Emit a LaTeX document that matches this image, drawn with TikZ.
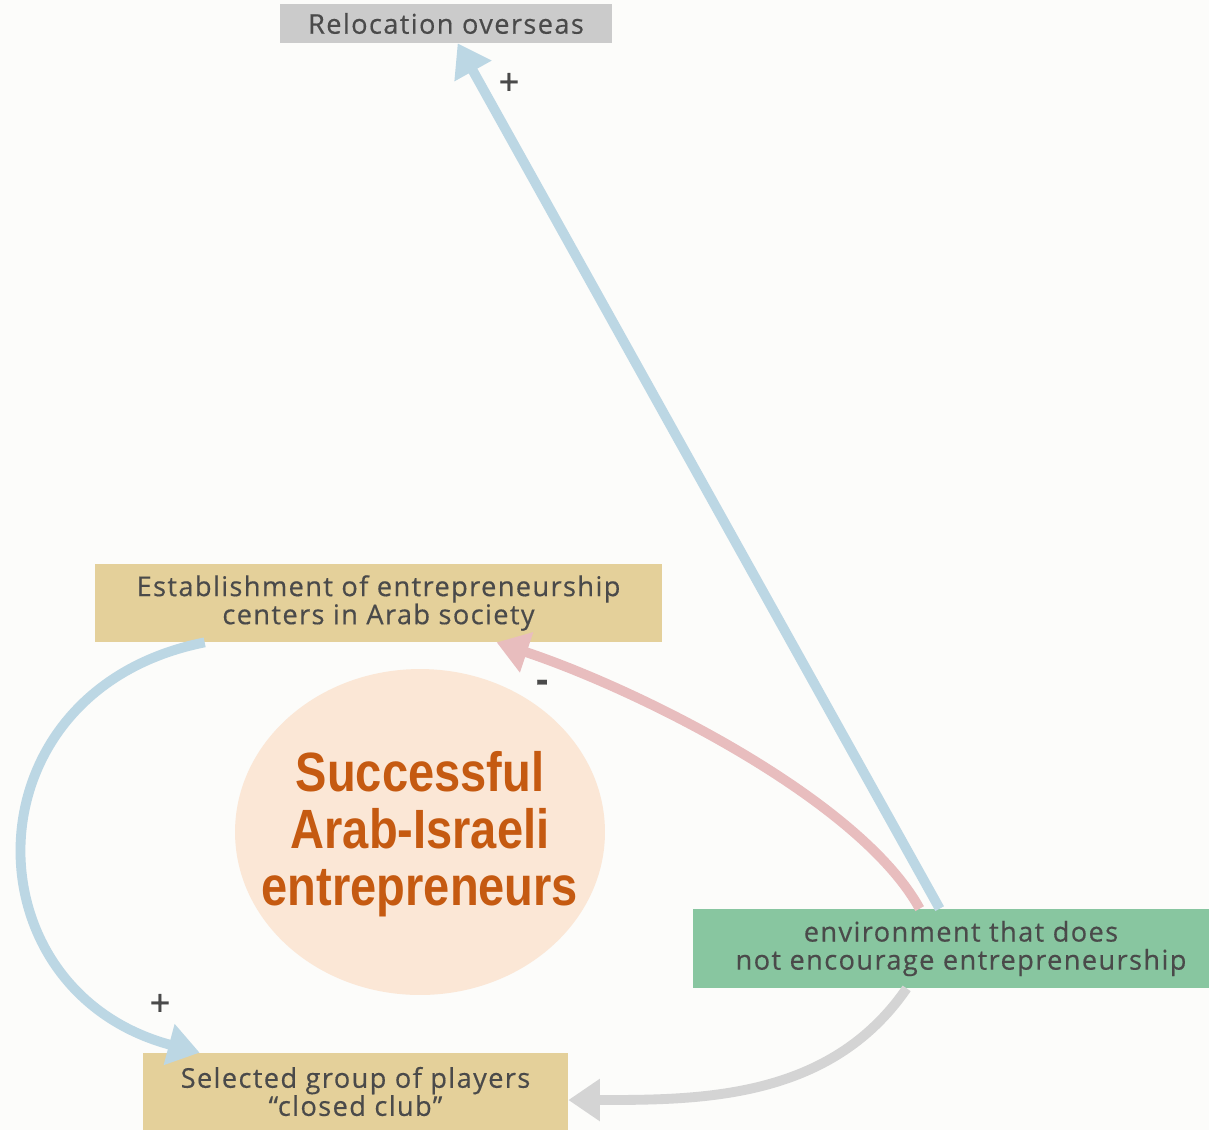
\documentclass[tikz,border=0pt]{standalone}
\usepackage{fontspec}
\setmainfont{Open Sans}[LetterSpace=5,FakeBold=0.4]
\newfontfamily\bigfont[FakeStretch=0.85]{Liberation Sans}
\usetikzlibrary{arrows.meta,shapes.geometric}
\definecolor{bgcol}{HTML}{FCFCFA}
\definecolor{txtcol}{HTML}{4A4A4A}
\definecolor{relcol}{HTML}{CBCBCB}
\definecolor{tancol}{HTML}{E4D09A}
\definecolor{envcol}{HTML}{88C6A0}
\definecolor{elcol}{HTML}{FBE7D6}
\definecolor{orcol}{HTML}{C55A11}
\definecolor{bluecol}{HTML}{BCD7E4}
\definecolor{pinkcol}{HTML}{E8BDBE}
\definecolor{graycol}{HTML}{D4D4D4}
\begin{document}
\begin{tikzpicture}[x=0.02cm,y=-0.02cm,
    box/.style={inner sep=0pt,align=center,text=txtcol,font=\fontsize{15.5}{16}\selectfont},
    link/.style={line width=5.6pt,-{Triangle[width=23pt,length=18pt]}},
    sign/.style={text=txtcol,font=\fontsize{21}{22}\selectfont}]
    \useasboundingbox[fill=bgcol] (0,0) rectangle (1209,1130);
    \node[box,fill=relcol,minimum width=6.64cm,minimum height=0.78cm] (reloc) at (446,23.5) {Relocation overseas};
    \node[box,fill=tancol,minimum width=11.34cm,minimum height=1.56cm] (est) at (378.5,603) {Establishment of entrepreneurship\\centers in Arab society};
    \node[box,fill=tancol,minimum width=8.5cm,minimum height=1.54cm] (sel) at (355.5,1091.5) {Selected group of players\\“closed club”};
    \node[box,fill=envcol,minimum width=10.32cm,minimum height=1.58cm] (env) at (951,948.5) {\hspace*{0.4cm}environment that does\\\hspace*{0.4cm}not encourage entrepreneurship};
    \node[ellipse,fill=elcol,minimum width=7.4cm,minimum height=6.52cm,inner sep=0pt] (succ) at (420,832) {};
    \node[align=center,text=orcol,font=\bigfont\bfseries\fontsize{31.5}{32.6}\selectfont] (succtxt) at (420,834) {Successful\\Arab-Israeli\\entrepreneurs};
    \draw[link,draw=bluecol,color=bluecol] ([xshift=4.94cm]env.north west) -- ([xshift=3.56cm]reloc.south west);
    \draw[link,draw=pinkcol,color=pinkcol] ([xshift=4.54cm]env.north west) .. controls (860,800) and (640,690) .. ([xshift=8.04cm]est.south west);
    \draw[link,draw=bluecol,color=bluecol] ([xshift=2.2cm]est.south west) .. controls (-35,690) and (-35,990) .. ([xshift=1.14cm]sel.north west);
    \draw[link,draw=graycol,color=graycol] ([xshift=4.28cm]env.south west) .. controls (830,1100) and (700,1100) .. ([yshift=-0.17cm]sel.east);
    \node[sign] (p1) at (509,84) {+};
    \node[sign] (m1) at (543,686) {\textbf{-}};
    \node[sign] (p2) at (160,1005) {+};
\end{tikzpicture}
\end{document}
